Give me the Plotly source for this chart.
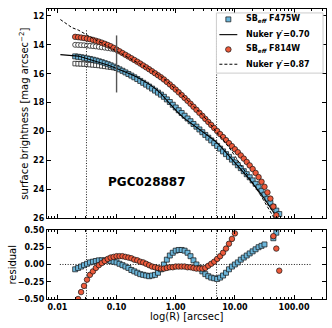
import plotly.graph_objects as go

# ---------------- data ----------------
LOG_R = [-1.70,-1.65,-1.60,-1.55,-1.50,-1.45,-1.40,-1.35,-1.30,-1.25,
         -1.20,-1.15,-1.10,-1.05,-1.00,-0.95,-0.90,-0.85,-0.80,-0.75,
         -0.70,-0.65,-0.60,-0.55,-0.50,-0.45,-0.40,-0.35,-0.30,-0.25,
         -0.20,-0.15,-0.10,-0.05,0.00,0.05,0.10,0.15,0.20,0.25,
         0.30,0.35,0.40,0.45,0.50,0.55,0.60,0.65,0.70,0.75,
         0.80,0.85,0.90,0.95,1.00,1.05,1.10,1.15,1.20,1.25,
         1.30,1.35,1.40,1.45,1.50,1.55,1.60,1.65,1.70,1.75]

SB_F475W = [14.80,14.83,14.86,14.90,14.94,14.98,15.03,15.08,15.14,15.20,
            15.27,15.34,15.42,15.51,15.60,15.70,15.80,15.91,16.02,16.13,
            16.25,16.37,16.50,16.63,16.76,16.89,17.03,17.17,17.31,17.45,
            17.60,17.78,17.96,18.15,18.34,18.53,18.72,18.91,19.10,19.29,
            19.48,19.67,19.86,20.05,20.24,20.43,20.62,20.81,21.00,21.19,
            21.38,21.57,21.76,21.95,22.14,22.34,22.54,22.75,22.96,23.17,
            23.39,23.62,23.86,24.11,24.38,24.66,24.95,25.22,25.48,25.72]

SB_F814W = [13.45,13.47,13.50,13.53,13.57,13.61,13.66,13.72,13.78,13.85,
            13.93,14.01,14.10,14.21,14.33,14.45,14.57,14.69,14.81,14.93,
            15.05,15.17,15.30,15.43,15.56,15.69,15.83,15.97,16.11,16.25,
            16.40,16.57,16.74,16.92,17.10,17.29,17.48,17.68,17.88,18.08,
            18.29,18.50,18.71,18.92,19.13,19.34,19.55,19.76,19.97,20.18,
            20.39,20.60,20.81,21.02,21.23,21.44,21.66,21.88,22.11,22.35,
            22.60,22.87,23.16,23.48,23.83,24.22,24.65,25.20,25.80,None]

RES_F475W = [-0.07,-0.05,-0.03,-0.01,0.01,0.03,0.04,0.05,0.06,0.06,
             0.06,0.06,0.05,0.04,0.03,0.01,-0.01,-0.03,-0.05,-0.08,
             -0.10,-0.12,-0.14,-0.15,-0.16,-0.17,-0.16,-0.15,-0.12,-0.07,
             0.00,0.07,0.13,0.17,0.20,0.21,0.21,0.20,0.17,0.12,
             0.06,0.00,-0.05,-0.10,-0.14,-0.17,-0.19,-0.20,-0.21,-0.19,
             -0.16,-0.12,-0.07,-0.03,0.00,0.03,0.07,0.10,0.13,0.16,
             0.19,0.22,0.25,0.27,0.29,None,None,0.38,0.46,None]

RES_F814W = [-0.58,-0.50,-0.40,-0.31,-0.22,-0.15,-0.10,-0.05,-0.01,0.02,
             0.05,0.08,0.10,0.11,0.12,0.12,0.12,0.11,0.10,0.09,
             0.07,0.06,0.04,0.03,0.01,-0.01,-0.03,-0.04,-0.05,-0.06,
             -0.06,-0.05,-0.04,-0.04,-0.03,-0.03,-0.03,-0.03,-0.04,-0.04,
             -0.05,-0.06,-0.06,-0.06,-0.05,-0.02,0.01,0.04,0.08,0.12,
             0.17,0.23,0.30,0.37,0.45,0.55,None,None,None,None,
             None,None,None,None,None,None,None,0.41,0.23,-0.09]

# inner (non-effective) profiles, drawn as open markers
OPEN_LOG_R = [-1.70,-1.65,-1.60,-1.55,-1.50,-1.45,-1.40,-1.35,-1.30,-1.25,
              -1.20,-1.15,-1.10,-1.05,-1.00]
OPEN_F475W = [15.30,15.31,15.32,15.33,15.35,15.37,15.39,15.41,15.43,15.46,
              15.49,15.52,15.55,15.58,15.61]
OPEN_F814W = [14.00,14.01,14.02,14.03,14.05,14.07,14.09,14.11,14.14,14.17,
              14.20,14.23,14.26,14.30,14.34]

# Nuker model curves
MODEL_LOG_R = [-1.95,-1.85,-1.75,-1.65,-1.55,-1.45,-1.35,-1.25,-1.15,-1.05,
               -0.95,-0.85,-0.75,-0.65,-0.55,-0.45,-0.35,-0.25,-0.15,-0.05,
               0.05,0.15,0.25,0.35,0.45,0.55,0.65,0.75,0.85,0.95,
               1.05,1.15,1.25,1.35,1.45,1.55,1.65,1.75]
NUKER_F475W = [14.68,14.72,14.76,14.78,14.89,15.01,15.13,15.26,15.40,15.55,
               15.71,15.88,16.05,16.25,16.48,16.72,17.02,17.38,17.85,18.32,
               18.74,19.11,19.41,19.67,19.95,20.26,20.61,21.00,21.45,21.92,
               22.37,22.85,23.33,23.84,24.38,24.97,25.60,26.20]
NUKER_F814W = [12.25,12.55,12.82,12.97,13.22,13.46,13.67,13.87,14.09,14.32,
               14.57,14.80,15.02,15.23,15.46,15.68,15.93,16.19,16.52,16.88,
               17.26,17.65,18.04,18.44,18.86,19.32,19.80,20.30,20.83,21.39,
               21.99,22.60,23.22,23.86,24.52,25.20,25.90,26.60]

# reference radii
R_LIMITS = [0.031, 4.9]          # dotted vertical lines
R_BREAK = 0.1                    # solid grey marker
BREAK_SPAN = [13.35, 17.3]
LIMIT_SPAN_TOP = [13.0, 26.0]
ZERO_SPAN = [0.011, 200]

GALAXY = "PGC028887"
LEGEND_LABELS = ["SB<sub><i>eff</i></sub> F475W", "Nuker <i>\u03b3</i>\u2032=0.70",
                 "SB<sub><i>eff</i></sub> F814W", "Nuker <i>\u03b3</i>\u2032=0.87"]

X_TICK_VALS = [0.01, 0.1, 1, 10, 100]
X_TICK_TEXT = ["0.01", "0.10", "1.00", "10.00", "100.00"]
X_MINOR_VALS = [0.007, 0.008, 0.009,
                0.02, 0.03, 0.04, 0.05, 0.06, 0.07, 0.08, 0.09,
                0.2, 0.3, 0.4, 0.5, 0.6, 0.7, 0.8, 0.9,
                2, 3, 4, 5, 6, 7, 8, 9,
                20, 30, 40, 50, 60, 70, 80, 90, 200, 300]
Y_TICK_VALS = [12, 14, 16, 18, 20, 22, 24, 26]
RES_TICK_VALS = [-0.5, -0.25, 0.0, 0.25, 0.5]
RES_TICK_TEXT = ["\u22120.50", "\u22120.25", "0.00", "0.25", "0.50"]

# ---------------- styling ----------------
BLUE = "#6CB6DA"
RED = "#EC5A3B"
FONT = "DejaVu Sans"
DOT = "1px,1.6px"

W, H = 332, 328
ML, MR, MT, MB = 47, 5, 5, 29
PW, PH = W - ML - MR, H - MT - MB


def px_x(x):
    return (x - ML) / PW


def px_y(y):
    return (H - MB - y) / PH


R = [10 ** v for v in LOG_R]
R_OPEN = [10 ** v for v in OPEN_LOG_R]
R_MODEL = [10 ** v for v in MODEL_LOG_R]

fig = go.Figure()

# open inner markers (behind)
fig.add_trace(go.Scatter(x=R_OPEN, y=OPEN_F814W, mode="markers", xaxis="x", yaxis="y",
                         marker=dict(symbol="circle", size=5, color="white",
                                     line=dict(color="#222", width=0.8)),
                         showlegend=False, hoverinfo="skip"))
fig.add_trace(go.Scatter(x=R_OPEN, y=OPEN_F475W, mode="markers", xaxis="x", yaxis="y",
                         marker=dict(symbol="square", size=4.5, color="white",
                                     line=dict(color="#222", width=0.8)),
                         showlegend=False, hoverinfo="skip"))

# reference lines
for r in R_LIMITS:
    fig.add_trace(go.Scatter(x=[r, r], y=LIMIT_SPAN_TOP, mode="lines", xaxis="x", yaxis="y",
                             line=dict(color="black", width=0.9, dash=DOT),
                             showlegend=False, hoverinfo="skip"))
    fig.add_trace(go.Scatter(x=[r, r], y=[-0.5, 0.5], mode="lines", xaxis="x2", yaxis="y2",
                             line=dict(color="black", width=0.9, dash=DOT),
                             showlegend=False, hoverinfo="skip"))
fig.add_trace(go.Scatter(x=ZERO_SPAN, y=[0, 0], mode="lines", xaxis="x2", yaxis="y2",
                         line=dict(color="black", width=0.9, dash=DOT),
                         showlegend=False, hoverinfo="skip"))

# F475W
fig.add_trace(go.Scatter(x=R, y=SB_F475W, mode="markers", xaxis="x", yaxis="y",
                         name=LEGEND_LABELS[0], showlegend=False,
                         marker=dict(symbol="square", size=5, color=BLUE,
                                     line=dict(color="#111", width=0.7))))
fig.add_trace(go.Scatter(x=R_MODEL, y=NUKER_F475W, mode="lines", xaxis="x", yaxis="y",
                         name=LEGEND_LABELS[1], showlegend=False,
                         line=dict(color="black", width=1.1)))
# F814W
fig.add_trace(go.Scatter(x=R, y=SB_F814W, mode="markers", xaxis="x", yaxis="y",
                         name=LEGEND_LABELS[2], showlegend=False,
                         marker=dict(symbol="circle", size=5.5, color=RED,
                                     line=dict(color="#111", width=0.7))))
fig.add_trace(go.Scatter(x=R_MODEL, y=NUKER_F814W, mode="lines", xaxis="x", yaxis="y",
                         name=LEGEND_LABELS[3], showlegend=False,
                         line=dict(color="black", width=1.0, dash="3px,2px")))

# break marker
fig.add_trace(go.Scatter(x=[R_BREAK, R_BREAK], y=BREAK_SPAN, mode="lines", xaxis="x", yaxis="y",
                         line=dict(color="#555", width=1.4), showlegend=False, hoverinfo="skip"))

# residuals
fig.add_trace(go.Scatter(x=R, y=RES_F475W, mode="markers", xaxis="x2", yaxis="y2",
                         marker=dict(symbol="square", size=5, color=BLUE,
                                     line=dict(color="#111", width=0.7)),
                         showlegend=False))
fig.add_trace(go.Scatter(x=R, y=RES_F814W, mode="markers", xaxis="x2", yaxis="y2",
                         marker=dict(symbol="circle", size=5.5, color=RED,
                                     line=dict(color="#111", width=0.7)),
                         showlegend=False))

tickfont = dict(family=FONT, size=8, color="black", weight="bold")
minor = dict(tickmode="array", tickvals=X_MINOR_VALS, ticks="inside", ticklen=2,
             tickwidth=1, tickcolor="black", showgrid=False)
common_x = dict(type="log", range=[-2.176, 2.54], showline=True, linecolor="black",
                linewidth=1.3, mirror="allticks", ticks="inside", ticklen=4, tickwidth=1.2,
                tickcolor="black", tickmode="array", tickvals=X_TICK_VALS, ticktext=X_TICK_TEXT,
                showgrid=False, zeroline=False, minor=minor, tickfont=tickfont)
common_y = dict(showline=True, linecolor="black", linewidth=1.3, mirror="allticks",
                ticks="inside", ticklen=4, tickwidth=1.2, tickcolor="black",
                showgrid=False, zeroline=False, tickfont=tickfont)

# ----- legend (drawn as a framed box in paper space) -----
leg_rows_y = [15.5, 31, 46, 61]
shapes = [dict(type="rect", xref="paper", yref="paper",
               x0=px_x(217), x1=px_x(324), y0=px_y(70), y1=px_y(9),
               line=dict(color="#cccccc", width=1), fillcolor="white", layer="above")]
yy = leg_rows_y[0]
shapes.append(dict(type="rect", xref="paper", yref="paper",
                   x0=px_x(226.5), x1=px_x(231.5), y0=px_y(yy + 2.5), y1=px_y(yy - 2.5),
                   line=dict(color="#111", width=0.7), fillcolor=BLUE, layer="above"))
yy = leg_rows_y[1]
shapes.append(dict(type="line", xref="paper", yref="paper",
                   x0=px_x(220), x1=px_x(238), y0=px_y(yy), y1=px_y(yy),
                   line=dict(color="black", width=1.1), layer="above"))
yy = leg_rows_y[2]
shapes.append(dict(type="circle", xref="paper", yref="paper",
                   x0=px_x(226.2), x1=px_x(231.8), y0=px_y(yy + 2.8), y1=px_y(yy - 2.8),
                   line=dict(color="#111", width=0.7), fillcolor=RED, layer="above"))
yy = leg_rows_y[3]
shapes.append(dict(type="line", xref="paper", yref="paper",
                   x0=px_x(220), x1=px_x(238), y0=px_y(yy), y1=px_y(yy),
                   line=dict(color="black", width=1.0, dash="3px,2px"), layer="above"))

annotations = []
for label, yy in zip(LEGEND_LABELS, leg_rows_y):
    annotations.append(dict(text="<b>" + label + "</b>", xref="paper", yref="paper",
                            x=px_x(245), y=px_y(yy), xanchor="left", yanchor="middle",
                            showarrow=False,
                            font=dict(family=FONT, size=8, color="black")))

annotations.append(dict(text="<b>" + GALAXY + "</b>", xref="paper", yref="paper",
                        x=px_x(147), y=px_y(180), showarrow=False,
                        font=dict(family=FONT, size=12, color="black")))
annotations.append(dict(text="surface brightness [mag arcsec<sup>\u22122</sup>]",
                        xref="paper", yref="paper", x=px_x(23), y=px_y(111),
                        textangle=-90, showarrow=False, xanchor="center", yanchor="middle",
                        font=dict(family=FONT, size=10, color="black")))
annotations.append(dict(text="residual", xref="paper", yref="paper",
                        x=px_x(12), y=px_y(264), textangle=-90, showarrow=False,
                        xanchor="center", yanchor="middle",
                        font=dict(family=FONT, size=10, color="black")))
annotations.append(dict(text="log(R) [arcsec]", xref="paper", yref="paper",
                        x=0.5, y=px_y(317), showarrow=False,
                        xanchor="center", yanchor="middle",
                        font=dict(family=FONT, size=10, color="black")))

fig.update_layout(
    width=W, height=H,
    margin=dict(l=ML, r=MR, t=MT, b=MB),
    paper_bgcolor="white", plot_bgcolor="white",
    font=dict(family=FONT, color="black"),
    showlegend=False,
    xaxis=dict(**common_x, anchor="y", domain=[0, 1], showticklabels=False, matches="x2"),
    yaxis=dict(**common_y, anchor="x", domain=[px_y(217), 1.0], range=[26, 11.52],
               tickmode="array", tickvals=Y_TICK_VALS),
    xaxis2=dict(**common_x, anchor="y2", domain=[0, 1]),
    yaxis2=dict(**common_y, anchor="x2", domain=[0, px_y(229)], range=[-0.5, 0.5],
                tickmode="array", tickvals=RES_TICK_VALS, ticktext=RES_TICK_TEXT),
    shapes=shapes,
    annotations=annotations,
)

# the page's default body margin would push the fixed-size figure off the window
fig.write_html("out.html",
               config={"displayModeBar": False},
               post_script="document.body.style.margin='0';document.body.style.overflow='hidden';")
